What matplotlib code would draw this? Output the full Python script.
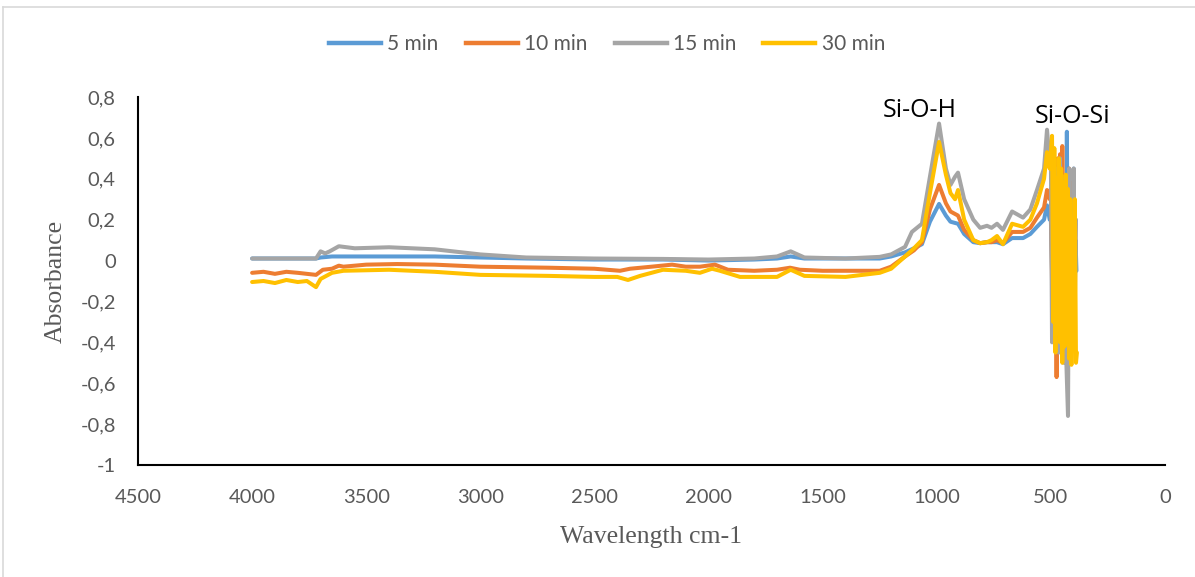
import matplotlib
matplotlib.use("Agg")
import matplotlib.pyplot as plt
from matplotlib.lines import Line2D

# ---------------- data ----------------
series_labels = ["5 min", "10 min", "15 min", "30 min"]
series_colors = ["#5b9bd5", "#ed7d31", "#a5a5a5", "#ffc000"]

wn_5 = [4000, 3900, 3800, 3720, 3700, 3650, 3600, 3400, 3200, 3000, 2800, 2500, 2200, 2000,
        1800, 1700, 1640, 1580, 1400, 1250, 1200, 1139, 1100, 1065, 1030, 990, 960, 940, 907,
        880, 840, 810, 780, 760, 736, 710, 670, 622, 590, 561, 530, 517, 505,
        500, 495, 490, 485, 480, 475, 470, 465, 460, 455, 450, 445, 440, 435, 430, 425, 420,
        415, 410, 405, 400, 396, 392, 388]
abs_5 = [0.01, 0.01, 0.01, 0.01, 0.015, 0.02, 0.02, 0.02, 0.02, 0.015, 0.01, 0.005, 0.005, 0.0,
         0.005, 0.01, 0.02, 0.01, 0.01, 0.01, 0.02, 0.04, 0.06, 0.08, 0.19, 0.277, 0.22, 0.19, 0.18,
         0.13, 0.09, 0.085, 0.09, 0.09, 0.09, 0.08, 0.11, 0.11, 0.13, 0.165, 0.2, 0.27, 0.2,
         0.2, -0.05, 0.15, -0.2, 0.1, -0.3, 0.2, -0.35, 0.3, -0.4, 0.35, -0.2, 0.4, -0.45, 0.63, -0.3, 0.3,
         -0.4, 0.2, -0.3, 0.45, -0.2, 0.1, -0.05]

wn_10 = [4000, 3950, 3900, 3850, 3800, 3760, 3720, 3690, 3650, 3620, 3600, 3500, 3365, 3200, 3000,
         2700, 2500, 2388, 2344, 2250, 2160, 2100, 2038, 1972, 1915, 1800, 1700, 1643, 1600,
         1500, 1400, 1250, 1200, 1139, 1100, 1065, 1030, 990, 960, 940, 907, 880, 840, 810,
         780, 760, 736, 710, 670, 622, 590, 561, 530, 517, 505,
         500, 495, 490, 485, 480, 475, 470, 465, 460, 455, 450, 445, 440, 435, 430, 425, 420,
         415, 410, 405, 400, 396, 392]
abs_10 = [-0.06, -0.055, -0.065, -0.055, -0.06, -0.065, -0.07, -0.045, -0.04, -0.025, -0.03, -0.02, -0.017, -0.02, -0.03,
          -0.035, -0.04, -0.05, -0.04, -0.03, -0.02, -0.03, -0.03, -0.02, -0.045, -0.05, -0.045, -0.035, -0.045,
          -0.05, -0.05, -0.05, -0.03, 0.02, 0.05, 0.09, 0.25, 0.37, 0.28, 0.24, 0.22, 0.15, 0.1, 0.085,
          0.09, 0.09, 0.1, 0.085, 0.14, 0.14, 0.16, 0.21, 0.26, 0.345, 0.3,
          0.35, -0.1, 0.3, -0.3, 0.4, -0.57, 0.5, -0.2, 0.52, -0.35, 0.56, -0.3, 0.4, -0.45, 0.3, -0.4, 0.45,
          -0.3, 0.38, -0.2, 0.3, -0.1, 0.18]

wn_15 = [4000, 3850, 3720, 3700, 3680, 3660, 3620, 3550, 3400, 3200, 3000, 2800, 2500, 2200, 2000,
         1800, 1700, 1640, 1580, 1400, 1250, 1200, 1139, 1109, 1065, 1030, 990, 960, 940, 920, 907,
         880, 840, 810, 780, 760, 736, 710, 670, 622, 590, 561, 530, 517, 505,
         500, 495, 490, 485, 480, 475, 470, 465, 460, 455, 450, 445, 440, 435, 425, 420, 415,
         410, 405, 400, 395, 390]
abs_15 = [0.01, 0.01, 0.01, 0.045, 0.035, 0.045, 0.07, 0.06, 0.065, 0.055, 0.03, 0.015, 0.01, 0.008, 0.005,
          0.01, 0.02, 0.045, 0.015, 0.01, 0.018, 0.03, 0.067, 0.14, 0.18, 0.41, 0.67, 0.45, 0.37, 0.41, 0.43,
          0.3, 0.2, 0.16, 0.17, 0.16, 0.18, 0.15, 0.24, 0.21, 0.25, 0.345, 0.45, 0.64, 0.48,
          0.5, -0.4, 0.3, -0.3, 0.45, -0.2, 0.35, -0.45, 0.5, -0.3, 0.4, -0.5, 0.3, -0.4, -0.76, 0.45, -0.35,
          0.3, -0.4, 0.45, -0.2, 0.2]

wn_30 = [4000, 3950, 3900, 3850, 3800, 3760, 3720, 3700, 3650, 3600, 3400, 3200, 3000, 2700, 2500,
         2400, 2353, 2300, 2200, 2100, 2038, 1985, 1950, 1862, 1700, 1640, 1580, 1400, 1250, 1200,
         1139, 1100, 1065, 1030, 990, 960, 940, 920, 907, 880, 840, 810, 780, 760, 736, 710,
         670, 622, 590, 561, 530, 517, 505, 495,
         490, 485, 480, 475, 470, 465, 460, 455, 450, 445, 440, 435, 430, 425, 420, 415, 410,
         405, 400, 395, 390, 386]
abs_30 = [-0.105, -0.1, -0.11, -0.095, -0.105, -0.1, -0.13, -0.09, -0.06, -0.05, -0.045, -0.055, -0.07, -0.075, -0.08,
          -0.08, -0.095, -0.075, -0.045, -0.05, -0.06, -0.04, -0.05, -0.08, -0.08, -0.045, -0.075, -0.08, -0.06, -0.04,
          0.02, 0.06, 0.1, 0.33, 0.58, 0.42, 0.33, 0.3, 0.345, 0.2, 0.1, 0.085, 0.09, 0.1, 0.12, 0.08,
          0.18, 0.165, 0.2, 0.28, 0.4, 0.53, 0.45, 0.61,
          -0.3, 0.55, -0.45, 0.4, -0.35, 0.5, -0.4, 0.45, -0.5, 0.38, -0.42, 0.42, -0.3, 0.35, -0.48, 0.3, -0.51,
          0.2, -0.42, 0.3, -0.5, -0.45]

x_ticks = [4500, 4000, 3500, 3000, 2500, 2000, 1500, 1000, 500, 0]
y_ticks = [-1, -0.8, -0.6, -0.4, -0.2, 0, 0.2, 0.4, 0.6, 0.8]

annotations = [("Si-O-H", 1074, 0.70), ("Si-O-Si", 407, 0.673)]

# ---------------- drawing ----------------
plt.rcParams['font.family'] = ['Lato', 'DejaVu Sans']
fig = plt.figure(figsize=(11.95, 5.77), dpi=100)
ax = fig.add_axes([138 / 1195, 1 - 465 / 577, (1165 - 138) / 1195, (465 - 97) / 577])

all_wn = [wn_5, wn_10, wn_15, wn_30]
all_abs = [abs_5, abs_10, abs_15, abs_30]
for wn, ab, lab, col in zip(all_wn, all_abs, series_labels, series_colors):
    ax.plot(wn, ab, color=col, lw=2.9, label=lab, solid_joinstyle='round', solid_capstyle='round')

ax.set_xlim(4500, 0)
ax.set_ylim(-1, 0.8)
ax.set_xticks(x_ticks)
ax.set_xticklabels([str(v) for v in x_ticks])
ax.set_yticks(y_ticks)
ax.set_yticklabels([("%g" % v).replace(".", ",") for v in y_ticks])
ax.tick_params(length=0, labelsize=14.5, labelcolor="#595959")
ax.tick_params(axis='x', pad=17)
ax.tick_params(axis='y', pad=16)
for s in ["top", "right"]:
    ax.spines[s].set_visible(False)
for s in ["left", "bottom"]:
    ax.spines[s].set_color("black")
    ax.spines[s].set_linewidth(1.5)

ax.set_xlabel("Wavelength cm-1", family="Liberation Serif", fontsize=18.5, color="#595959", labelpad=15)
ax.set_ylabel("Absorbance", family="Liberation Serif", fontsize=18.5, color="#595959", labelpad=10)

for txt, xv, yv in annotations:
    ax.text(xv, yv, txt, fontsize=18, color="black", ha="center", va="baseline", family="Open Sans")

handles = [Line2D([0], [0], color=c, lw=3.2) for c in series_colors]
fig.legend(handles, series_labels, loc="center", bbox_to_anchor=(0.508, 1 - 44 / 577), ncol=4,
           frameon=False, fontsize=15, labelcolor="#595959", handlelength=2.5, handletextpad=0.3,
           columnspacing=1.3)

# light chart-area frame
fig.add_artist(Line2D([3 / 1195, 3 / 1195], [0, 1 - 7 / 577], color="#d9d9d9", lw=1.2,
                      transform=fig.transFigure))
fig.add_artist(Line2D([3 / 1195, 1], [1 - 7 / 577, 1 - 7 / 577], color="#d9d9d9", lw=1.2,
                      transform=fig.transFigure))

fig.savefig("out.png", dpi=100)
